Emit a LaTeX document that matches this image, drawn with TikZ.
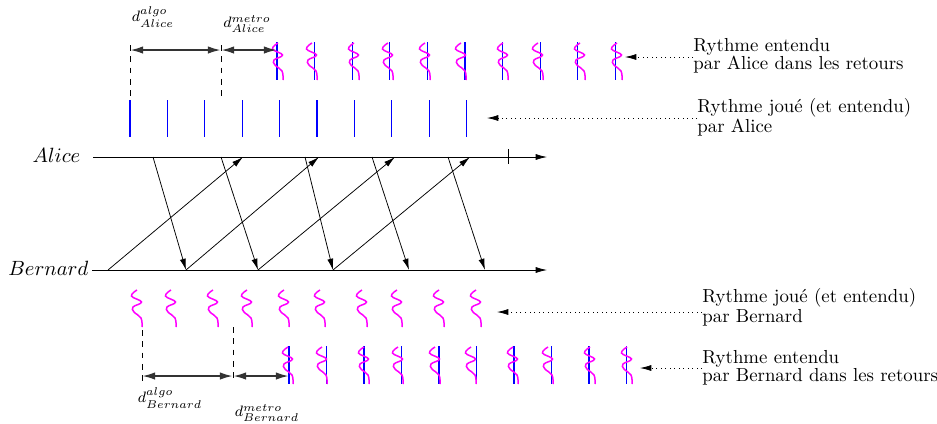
\documentclass[tikz,border=0pt]{standalone}
\usepackage{xcolor}
\usetikzlibrary{arrows, arrows.meta, math}
\definecolor{myblue}{RGB}{0, 0, 255}
\definecolor{mymagenta}{RGB}{255, 0, 255}

\tikzset{
beat/.style={color=myblue, line width=0.6},
squig/.style={color=mymagenta, line width=0.8},
msg/.style={-{Latex[length=6pt, width=3.2pt]}},
cote/.style={{Latex[length=7pt, width=4pt]}-{Latex[length=7pt, width=4pt]}, line width=1.1, color=black!80},
guide/.style={dashed},
note/.style={dotted, -{Latex[length=6pt, width=3.2pt]}},
legend/.style={anchor=west, align=left, inner sep=0, font=\fontsize{10}{9.4}\selectfont},
}

% squiggle with its lower end at (#1,#2)
\newcommand{\squiggle}[2]{
\draw[squig] plot[smooth, tension=0.7] coordinates {(#1-5,#2-37) (#1-10.5,#2-31) (#1-0.5,#2-25) (#1-9,#2-20) (#1-8,#2-15) (#1-1,#2-9) (#1,#2)};
}

\begin{document}
\begin{tikzpicture}[x=0.531pt, y=-0.531pt]
\tikzmath{
\yA=157;
\yB=270;
}
\useasboundingbox (0,0) rectangle (937,423);

\coordinate (A0) at (93,\yA);
\coordinate (A1) at (547,\yA);
\coordinate (B0) at (92,\yB);
\coordinate (B1) at (547,\yB);

\draw[msg] (A0) -- (A1);
\draw[msg] (B0) -- (B1);
\draw (508,149) -- (508,164);
\node[anchor=east, font=\fontsize{11}{13}\selectfont] (alice) at (87,\yA-2) {$Alice$};
\node[anchor=east, font=\fontsize{11}{13}\selectfont] (bernard) at (95,\yB-2) {$Bernard$};

% messages
\foreach \xs/\xe [count=\i] in {153/186, 221/258, 305/333, 372/409, 448/485}{
\coordinate (s\i) at (\xs,\yA);
\coordinate (e\i) at (\xe,\yB);
\draw[msg] (s\i) -- (e\i);
}
\coordinate (e0) at (108,\yB);
\foreach \xe [count=\i from 0] in {243, 319, 395, 470}{
\coordinate (r\i) at (\xe,\yA);
\draw[msg] (e\i) -- (r\i);
}

% rhythms
\foreach \i in {0,...,9}{
\draw[beat] (130+37.4*\i,100) -- ++(0,37);
\draw[beat] (277+37.6*\i,42) -- ++(0,38);
\draw[beat] (289+37.5*\i,346) -- ++(0,38);
}
\foreach \x in {142, 176, 218, 252, 289, 325, 367, 402, 444, 481}{
\squiggle{\x}{327}
\squiggle{\x+141}{80}
\squiggle{\x+151}{384}
}

% delays
\coordinate (dA0) at (130,45);
\coordinate (dA1) at (221,45);
\coordinate (dA2) at (277,50);
\draw[guide] (dA0) -- (130,100);
\draw[guide] (dA1) -- (221,100);
\draw[cote] (130,50) -- (221,50);
\draw[cote] (221,50) -- (dA2);
\node[font=\footnotesize] (dalgoA) at (153,17) {$d^{algo}_{Alice}$};
\node[font=\footnotesize] (dmetroA) at (247,24) {$d^{metro}_{Alice}$};

\coordinate (dB0) at (142,384);
\coordinate (dB1) at (233,382);
\coordinate (dB2) at (289,376);
\draw[guide] (142,330) -- (dB0);
\draw[guide] (233,327) -- (dB1);
\draw[cote] (142,376) -- (233,376);
\draw[cote] (233,376) -- (dB2);
\node[font=\footnotesize] (dalgoB) at (170,398) {$d^{algo}_{Bernard}$};
\node[font=\footnotesize] (dmetroB) at (267,413) {$d^{metro}_{Bernard}$};

% legends
\node[legend] (lAr) at (693,56) {Rythme entendu\\par Alice dans les retours};
\node[legend] (lAj) at (697,117) {Rythme jou\'e (et entendu)\\par Alice};
\node[legend] (lBj) at (702,307) {Rythme jou\'e (et entendu)\\par Bernard};
\node[legend] (lBr) at (702,368) {Rythme entendu\\par Bernard dans les retours};
\coordinate (pAr) at (625,57);
\coordinate (pAj) at (487,118);
\coordinate (pBj) at (497,312);
\coordinate (pBr) at (640,368);
\draw[note] (lAr.west |- pAr) -- (pAr);
\draw[note] (lAj.west |- pAj) -- (pAj);
\draw[note] (lBj.west |- pBj) -- (pBj);
\draw[note] (lBr.west |- pBr) -- (pBr);
\end{tikzpicture}
\end{document}
